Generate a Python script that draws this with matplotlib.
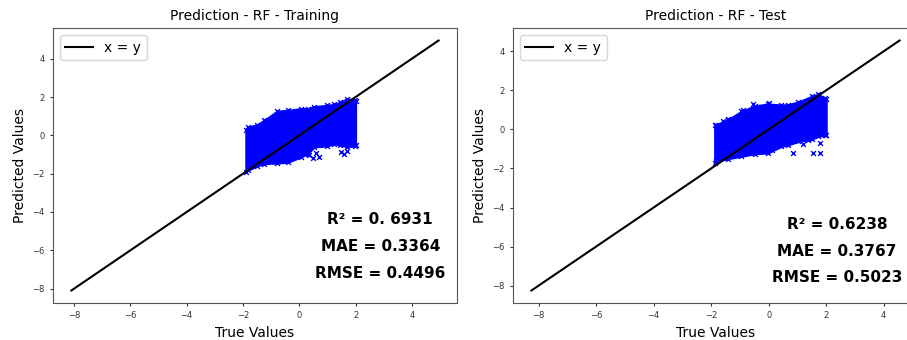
import numpy as np
import matplotlib
matplotlib.use('Agg')
import matplotlib.pyplot as plt

# x = y reference line ends
line_train = [-8.1, 4.95]
line_test = [-8.25, 4.55]

# outline of the dense training cloud (true value -> lowest / highest prediction)
train_x = [-1.9, -1.84, -1.5, -1.24, -0.78, -0.4, 0.06, 0.3, 0.53, 1.0, 1.24, 1.45, 1.7, 1.97, 2.0]
train_top = [0.3, 0.44, 0.55, 0.79, 1.27, 1.3, 1.4, 1.4, 1.5, 1.57, 1.62, 1.72, 1.92, 1.83, 1.8]
train_bot = [-1.9, -1.83, -1.6, -1.47, -1.45, -1.4, -1.13, -0.95, -0.61, -0.55, -0.44, -0.5, -0.6, -0.55, -0.5]
# isolated training points below the cloud
train_out_x = [0.2, 0.35, 0.5, 0.6, 0.7, 1.5, 1.6, 1.7]
train_out_y = [-0.95, -1.05, -1.2, -0.9, -1.15, -0.85, -0.95, -0.8]

# outline of the dense test cloud
test_x = [-1.88, -1.82, -1.42, -0.95, -0.49, -0.03, 0.44, 0.67, 1.02, 1.49, 1.72, 1.95, 2.0]
test_top = [0.2, 0.24, 0.5, 0.92, 1.2, 1.3, 1.25, 1.27, 1.4, 1.69, 1.8, 1.6, 1.55]
test_bot = [-1.7, -1.64, -1.5, -1.38, -1.25, -1.21, -0.87, -0.8, -0.62, -0.5, -0.36, -0.3, -0.3]
# isolated test points
test_out_x = [0.1, 0.85, 1.2, 1.36, 1.55, 1.8, 1.8, 0.0, -0.55, -0.9, -1.4, -1.6]
test_out_y = [-1.05, -1.2, -0.75, -0.55, -1.2, -1.2, -0.7, 1.35, 1.28, 1.0, 0.55, 0.45]

titles = ['Prediction - RF - Training', 'Prediction - RF - Test']
metrics_train = ['R\u00b2 = 0. 6931', 'MAE = 0.3364', 'RMSE = 0.4496']
metrics_test = ['R\u00b2 = 0.6238', 'MAE = 0.3767', 'RMSE = 0.5023']

fig = plt.figure(figsize=(9.07, 3.4), dpi=100)
ax1 = fig.add_axes([0.0584, 0.1088, 0.4454, 0.8088])
ax2 = fig.add_axes([0.5656, 0.1088, 0.4465, 0.8088])

panels = [
    (ax1, line_train, train_x, train_top, train_bot, train_out_x, train_out_y, metrics_train, [0.305, 0.207, 0.109], 0.81),
    (ax2, line_test, test_x, test_top, test_bot, test_out_x, test_out_y, metrics_test, [0.284, 0.189, 0.091], 0.80),
]

for i, (ax, ln, cx, ctop, cbot, ox, oy, mets, ys, xt) in enumerate(panels):
    ax.fill_between(cx, cbot, ctop, color='b', lw=1.5, edgecolor='b')
    ax.scatter(cx + cx + ox, ctop + cbot + oy, marker='x', color='b', s=12, lw=1.0)
    ax.plot(ln, ln, color='k', lw=1.5, label='x = y')
    ax.set_title(titles[i], fontsize=10)
    ax.set_xlabel('True Values', fontsize=10)
    ax.set_ylabel('Predicted Values', fontsize=10)
    ax.tick_params(labelsize=6, colors='#333333', length=2.5)
    for sp in ax.spines.values():
        sp.set_color('#555555')
    ax.legend(loc='upper left', fontsize=10)
    for t, yy in zip(mets, ys):
        ax.text(xt, yy, t, transform=ax.transAxes, ha='center', va='center',
                fontsize=11, fontweight='bold')

fig.savefig('out.png', dpi=100)
